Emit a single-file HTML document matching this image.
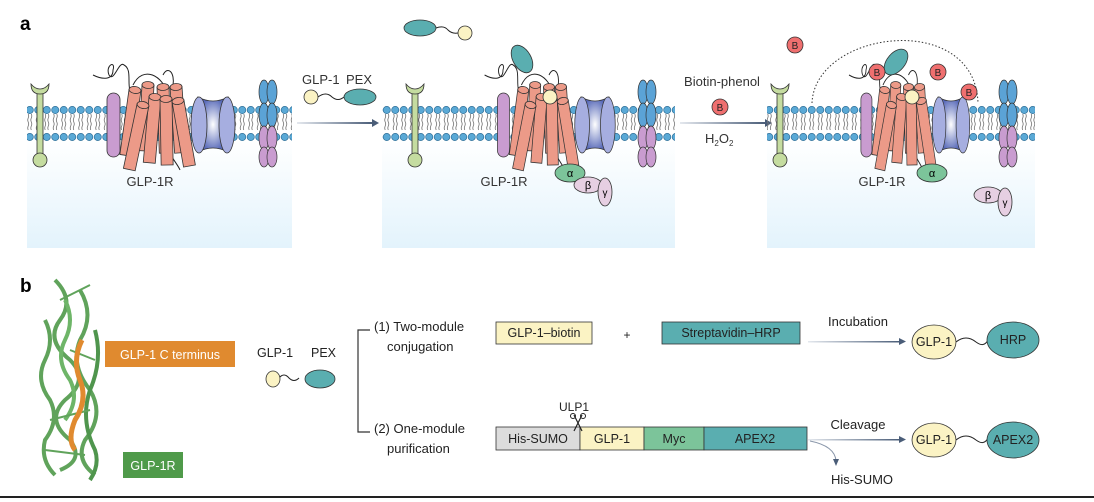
<!DOCTYPE html>
<html><head><meta charset="utf-8">
<style>
html,body{margin:0;padding:0;background:#fff;}
svg{display:block;font-family:"Liberation Sans",sans-serif;}
</style></head>
<body>
<svg width="1094" height="502" viewBox="0 0 1094 502" xmlns="http://www.w3.org/2000/svg">
<defs>
<linearGradient id="bg" x1="0" y1="0" x2="0" y2="1">
<stop offset="0" stop-color="#ffffff"/><stop offset="1" stop-color="#e3f3fc"/>
</linearGradient>
<linearGradient id="arr" x1="0" y1="0" x2="1" y2="0">
<stop offset="0" stop-color="#e4e8ee"/><stop offset="1" stop-color="#4a5d78"/>
</linearGradient>
<radialGradient id="ch" cx="0.5" cy="0.5" r="0.5">
<stop offset="0" stop-color="#ffffff"/><stop offset="1" stop-color="#5668b8"/>
</radialGradient>
<pattern id="mem" x="0" y="103" width="8.5" height="40" patternUnits="userSpaceOnUse">
<path d="M2.7 11 q1 2 0 4 q-1 2 0 4 q1 2 0 4 q-1 2 0 4 M5.8 11 q1 2 0 4 q-1 2 0 4 q1 2 0 4 q-1 2 0 4" stroke="#777" stroke-width="0.8" fill="none"/>
<circle cx="4.25" cy="7" r="3.6" fill="#5aa9d6" stroke="#2f6f98" stroke-width="0.7"/>
<circle cx="4.25" cy="34" r="3.6" fill="#5aa9d6" stroke="#2f6f98" stroke-width="0.7"/>
</pattern>
<g id="yrec">
<rect x="-3" y="90" width="6" height="68" fill="#c5dca0" stroke="#333" stroke-width="0.8"/>
<path d="M-9 84 q0 10 9 10 q9 0 9 -10 q-4 5 -9 5 q-5 0 -9 -5z" fill="#c5dca0" stroke="#333" stroke-width="0.8"/>
<circle cx="0" cy="160" r="7" fill="#c5dca0" stroke="#333" stroke-width="0.8"/>
</g>
<g id="cyl">
<rect x="-6" y="0" width="12" height="66" fill="#ec9a88" stroke="#333" stroke-width="0.8"/>
<ellipse cx="0" cy="0" rx="6" ry="3.5" fill="#ec9a88" stroke="#333" stroke-width="0.8"/>
</g>
<g id="rec">
<path d="M-20 -20 c10 5 20 5 20 -5 c3 -10 -8 -5 -4 5 c5 8 10 -15 15 -10 c10 5 0 25 10 30" stroke="#222" fill="none" stroke-width="1"/>
<path d="M20 -10 c10 -20 30 -10 35 10 M50 -20 c5 -10 12 -2 10 10" stroke="#222" fill="none" stroke-width="1"/>
<path d="M55 55 c5 10 10 15 12 20" stroke="#222" fill="none" stroke-width="1"/>
<rect x="-6" y="-2" width="13" height="64" rx="6.5" fill="#c99cd0" stroke="#333" stroke-width="0.8"/>
<use href="#cyl" transform="translate(35,-10) rotate(3)"/>
<use href="#cyl" transform="translate(50,-8) rotate(-2)"/>
<use href="#cyl" transform="translate(63,-8) rotate(-4)"/>
<use href="#cyl" transform="translate(22,-5) rotate(8)"/>
<use href="#cyl" transform="translate(42,2) rotate(5)"/>
<use href="#cyl" transform="translate(30,10) rotate(12)"/>
<use href="#cyl" transform="translate(53,4) rotate(-1)"/>
<use href="#cyl" transform="translate(65,6) rotate(-10)"/>
<path d="M85 2 q15 8 30 0 q-8 28 0 55 q-15 -8 -30 0 q8 -27 0 -55z" fill="url(#ch)" stroke="#333" stroke-width="0.8"/>
<ellipse cx="86" cy="30" rx="8" ry="28" fill="#a6aee0" stroke="#333" stroke-width="0.8"/>
<ellipse cx="114" cy="30" rx="8" ry="28" fill="#a6aee0" stroke="#333" stroke-width="0.8"/>
</g>
<g id="pair">
<ellipse cx="-4" cy="92" rx="5" ry="12" fill="#5ba3d6" stroke="#333" stroke-width="0.7"/>
<ellipse cx="4" cy="92" rx="5" ry="12" fill="#5ba3d6" stroke="#333" stroke-width="0.7"/>
<ellipse cx="-4" cy="115" rx="5" ry="12" fill="#5ba3d6" stroke="#333" stroke-width="0.7"/>
<ellipse cx="4" cy="115" rx="5" ry="12" fill="#5ba3d6" stroke="#333" stroke-width="0.7"/>
<ellipse cx="-4" cy="138" rx="5" ry="12" fill="#c99cd0" stroke="#333" stroke-width="0.7"/>
<ellipse cx="4" cy="138" rx="5" ry="12" fill="#c99cd0" stroke="#333" stroke-width="0.7"/>
<ellipse cx="-4" cy="157" rx="5" ry="10" fill="#c99cd0" stroke="#333" stroke-width="0.7"/>
<ellipse cx="4" cy="157" rx="5" ry="10" fill="#c99cd0" stroke="#333" stroke-width="0.7"/>
</g>
<g id="bb"><circle r="8" fill="#ef6f6f" stroke="#333" stroke-width="0.8"/><text y="4" font-size="10" text-anchor="middle" fill="#222">B</text></g>
</defs>

<text x="20" y="30" font-size="19" font-weight="bold">a</text>

<!-- panel 1 -->
<rect x="27" y="140" width="265" height="108" fill="url(#bg)"/>
<rect x="27" y="103" width="265" height="40" fill="url(#mem)"/>
<use href="#yrec" x="40"/>
<use href="#rec" transform="translate(113,95)"/>
<use href="#pair" x="268"/>
<text x="150" y="186" font-size="13" text-anchor="middle" fill="#333">GLP-1R</text>

<!-- arrow 1 -->
<rect x="297" y="122" width="76" height="2" fill="url(#arr)"/>
<path d="M372 119 l7 4 l-7 4z" fill="#4a5d78"/>
<text x="302" y="84" font-size="13" fill="#333">GLP-1</text>
<text x="346" y="84" font-size="13" fill="#333">PEX</text>
<path d="M318 97 q8 -6 14 0 q6 5 12 0" stroke="#222" fill="none"/>
<circle cx="311" cy="97" r="7" fill="#fbf3c4" stroke="#333" stroke-width="0.8"/>
<ellipse cx="360" cy="97" rx="16" ry="8" fill="#5aaeb0" stroke="#333" stroke-width="0.8"/>

<!-- panel 2 -->
<rect x="382" y="140" width="293" height="108" fill="url(#bg)"/>
<rect x="382" y="103" width="293" height="40" fill="url(#mem)"/>
<use href="#yrec" x="415"/>
<use href="#rec" transform="translate(503,95) scale(0.92,1)"/>
<use href="#pair" x="647"/>
<circle cx="550" cy="97" r="7" fill="#fbf3c4" stroke="#333" stroke-width="0.8"/>
<ellipse cx="420" cy="28" rx="16" ry="8" fill="#5aaeb0" stroke="#333" stroke-width="0.8"/>
<path d="M436 28 q8 -3 12 2 q4 4 10 3" stroke="#222" fill="none"/>
<circle cx="465" cy="33" r="7" fill="#fbf3c4" stroke="#333" stroke-width="0.8"/>
<ellipse cx="522" cy="59" rx="9" ry="15" transform="rotate(-30 522 59)" fill="#5aaeb0" stroke="#333" stroke-width="0.8"/>
<text x="504" y="186" font-size="13" text-anchor="middle" fill="#333">GLP-1R</text>
<ellipse cx="570" cy="173" rx="15" ry="9" fill="#7cc49a" stroke="#333" stroke-width="0.8"/><text x="570" y="177" font-size="11" text-anchor="middle">α</text>
<ellipse cx="588" cy="185" rx="14" ry="8" fill="#e6cfe2" stroke="#333" stroke-width="0.8"/><text x="588" y="189" font-size="11" text-anchor="middle">β</text>
<ellipse cx="605" cy="192" rx="7" ry="14" fill="#e6cfe2" stroke="#333" stroke-width="0.8"/><text x="605" y="196" font-size="10" text-anchor="middle">γ</text>

<!-- arrow 2 -->
<rect x="680" y="122" width="86" height="2" fill="url(#arr)"/>
<path d="M765 119 l7 4 l-7 4z" fill="#4a5d78"/>
<text x="722" y="86" font-size="13" text-anchor="middle" fill="#333">Biotin-phenol</text>
<use href="#bb" x="720" y="107"/>
<text x="705" y="143" font-size="13" fill="#333">H<tspan font-size="8" dy="3">2</tspan><tspan dy="-3">O</tspan><tspan font-size="8" dy="3">2</tspan></text>

<!-- panel 3 -->
<rect x="767" y="140" width="268" height="108" fill="url(#bg)"/>
<rect x="767" y="103" width="268" height="40" fill="url(#mem)"/>
<path d="M812 103 C815 30 975 10 978 103" stroke="#333" stroke-dasharray="1.5 2" fill="none"/>
<use href="#yrec" x="780"/>
<use href="#rec" transform="translate(866,95) scale(0.85,1)"/>
<use href="#pair" x="1008"/>
<circle cx="912" cy="97" r="7" fill="#fbf3c4" stroke="#333" stroke-width="0.8"/>
<ellipse cx="896" cy="62" rx="9" ry="15" transform="rotate(40 896 62)" fill="#5aaeb0" stroke="#333" stroke-width="0.8"/>
<use href="#bb" x="795" y="45"/>
<use href="#bb" x="877" y="72"/>
<use href="#bb" x="938" y="72"/>
<use href="#bb" x="969" y="92"/>
<text x="882" y="186" font-size="13" text-anchor="middle" fill="#333">GLP-1R</text>
<ellipse cx="932" cy="173" rx="15" ry="9" fill="#7cc49a" stroke="#333" stroke-width="0.8"/><text x="932" y="177" font-size="11" text-anchor="middle">α</text>
<ellipse cx="988" cy="195" rx="14" ry="8" fill="#e6cfe2" stroke="#333" stroke-width="0.8"/><text x="988" y="199" font-size="11" text-anchor="middle">β</text>
<ellipse cx="1005" cy="202" rx="7" ry="14" fill="#e6cfe2" stroke="#333" stroke-width="0.8"/><text x="1005" y="206" font-size="10" text-anchor="middle">γ</text>

<!-- panel b -->
<text x="20" y="292" font-size="19" font-weight="bold">b</text>
<g stroke="#4f9a4a" stroke-width="4" fill="none" opacity="0.9">
<path d="M55 280 q20 20 5 40 q-15 20 10 40 q20 20 -5 40 q-20 20 5 40 q15 20 -10 30"/>
<path d="M80 290 q15 25 0 50 q-10 25 10 50 q15 25 -5 50 q-10 20 10 35"/>
<path d="M45 320 q10 20 0 40 q-10 20 5 40 q10 20 -5 40 q-5 20 10 35"/>
<path d="M95 330 q8 30 -5 60 q-10 30 5 60 q5 15 -5 30" stroke="#3d8a3a"/>
<path d="M65 300 q10 20 0 40 q-10 20 5 40 q10 20 -5 40" stroke="#5fae58"/>
<path d="M60 300 l30 -15 M70 350 l25 10 M50 420 l40 -10 M45 450 l40 5" stroke-width="2"/>
</g>
<path d="M82 340 q-10 20 -2 40 q8 20 -5 40 q-8 20 0 30" stroke="#e08a2f" stroke-width="5" fill="none"/>
<rect x="105" y="341" width="130" height="26" fill="#e08a2f"/>
<text x="170" y="359" font-size="12.5" text-anchor="middle" fill="#fff">GLP-1 C terminus</text>
<rect x="123" y="452" width="60" height="26" fill="#4f9a4a"/>
<text x="153" y="470" font-size="12.5" text-anchor="middle" fill="#fff">GLP-1R</text>

<text x="257" y="357" font-size="12.5" fill="#222">GLP-1</text>
<text x="311" y="357" font-size="12.5" fill="#222">PEX</text>
<path d="M279 378 q5 -6 10 0 q5 5 10 0" stroke="#222" fill="none"/>
<ellipse cx="273" cy="379" rx="7" ry="8" fill="#fbf3c4" stroke="#333" stroke-width="0.8"/>
<ellipse cx="320" cy="379" rx="15" ry="9" fill="#5aaeb0" stroke="#333" stroke-width="0.8"/>

<path d="M370 330 h-12 v102 h12" stroke="#333" fill="none" stroke-width="1.2"/>
<text x="374" y="331" font-size="13" fill="#222">(1) Two-module</text>
<text x="387" y="351" font-size="13" fill="#222">conjugation</text>
<text x="374" y="433" font-size="13" fill="#222">(2) One-module</text>
<text x="387" y="453" font-size="13" fill="#222">purification</text>

<rect x="496" y="322" width="96" height="22" fill="#fbf3c4" stroke="#333" stroke-width="0.8"/>
<text x="544" y="337" font-size="12.5" text-anchor="middle" fill="#222">GLP-1–biotin</text>
<text x="627" y="339" font-size="12" text-anchor="middle" fill="#222">+</text>
<rect x="662" y="322" width="138" height="22" fill="#5aaeb0" stroke="#333" stroke-width="0.8"/>
<text x="731" y="337" font-size="12.5" text-anchor="middle" fill="#222">Streptavidin–HRP</text>
<text x="858" y="326" font-size="13" text-anchor="middle" fill="#222">Incubation</text>
<rect x="808" y="341" width="92" height="1.5" fill="url(#arr)"/>
<path d="M899 338 l7 3.5 l-7 3.5z" fill="#4a5d78"/>
<path d="M956 342 q10 -8 20 0 q8 6 12 -2" stroke="#222" fill="none"/>
<ellipse cx="934" cy="342" rx="22" ry="17" fill="#fbf3c4" stroke="#333" stroke-width="0.8"/>
<text x="934" y="346" font-size="12.5" text-anchor="middle" fill="#222">GLP-1</text>
<ellipse cx="1013" cy="340" rx="26" ry="18" fill="#5aaeb0" stroke="#333" stroke-width="0.8"/>
<text x="1013" y="344" font-size="12.5" text-anchor="middle" fill="#222">HRP</text>

<text x="574" y="411" font-size="12" text-anchor="middle" fill="#222">ULP1</text>
<rect x="496" y="427" width="84" height="23" fill="#dcdcdc" stroke="#333" stroke-width="0.8"/>
<rect x="580" y="427" width="64" height="23" fill="#fbf3c4" stroke="#333" stroke-width="0.8"/>
<rect x="644" y="427" width="60" height="23" fill="#7cc49a" stroke="#333" stroke-width="0.8"/>
<rect x="704" y="427" width="103" height="23" fill="#5aaeb0" stroke="#333" stroke-width="0.8"/>
<text x="538" y="443" font-size="12.5" text-anchor="middle" fill="#222">His-SUMO</text>
<text x="612" y="443" font-size="12.5" text-anchor="middle" fill="#222">GLP-1</text>
<text x="674" y="443" font-size="12.5" text-anchor="middle" fill="#222">Myc</text>
<text x="755" y="443" font-size="12.5" text-anchor="middle" fill="#222">APEX2</text>
<path d="M574 415 l8 16 M582 415 l-8 16" stroke="#222" stroke-width="1.2"/>
<circle cx="573" cy="416" r="2.5" fill="none" stroke="#222"/><circle cx="583" cy="416" r="2.5" fill="none" stroke="#222"/>

<text x="858" y="429" font-size="13" text-anchor="middle" fill="#222">Cleavage</text>
<rect x="808" y="439" width="92" height="1.5" fill="url(#arr)"/>
<path d="M899 436 l7 3.5 l-7 3.5z" fill="#4a5d78"/>
<path d="M810 441 q25 5 26 20" stroke="#8a97aa" fill="none"/>
<path d="M833 459 l3 7 l3 -7z" fill="#4a5d78"/>
<text x="862" y="484" font-size="13" text-anchor="middle" fill="#222">His-SUMO</text>
<path d="M956 440 q10 -8 20 0 q8 6 12 -2" stroke="#222" fill="none"/>
<ellipse cx="934" cy="440" rx="22" ry="17" fill="#fbf3c4" stroke="#333" stroke-width="0.8"/>
<text x="934" y="444" font-size="12.5" text-anchor="middle" fill="#222">GLP-1</text>
<ellipse cx="1013" cy="440" rx="26" ry="18" fill="#5aaeb0" stroke="#333" stroke-width="0.8"/>
<text x="1013" y="444" font-size="12.5" text-anchor="middle" fill="#222">APEX2</text>

<rect x="0" y="496" width="1094" height="2" fill="#222"/>
</svg>
</body></html>
